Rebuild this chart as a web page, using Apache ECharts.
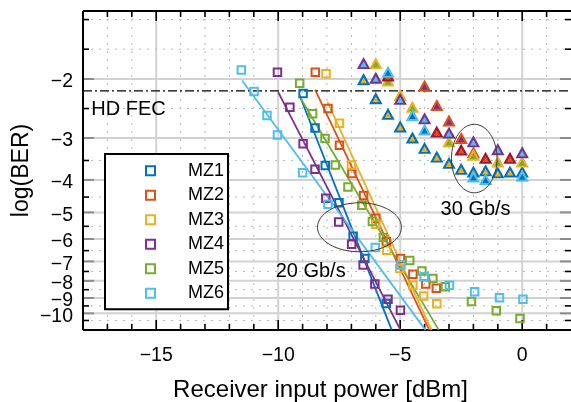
<!DOCTYPE html>
<html>
<head>
<meta charset="utf-8">
<script src="https://cdn.jsdelivr.net/npm/echarts@6/dist/echarts.min.js"></script>
<style>
html,body{margin:0;padding:0;background:#fff}
#chart{width:571px;height:402px}
</style>
</head>
<body>
<div id="chart"></div>
<script>
const FONT = '"Liberation Sans", Arial, Helvetica, sans-serif';
const NAMES = ['MZ1', 'MZ2', 'MZ3', 'MZ4', 'MZ5', 'MZ6'];
const LINE_COLORS = ['#0072BD', '#D95319', '#EDB120', '#7E2F8E', '#77AC30', '#4DBEEE'];
// 30 Gb/s triangles: edge colour / face colour
const TRI_EDGE = ['#0072BD', '#D95319', '#EDB120', '#7E2F8E', '#A2142F', '#4DBEEE'];
const TRI_FACE = ['#EDB120', '#7E2F8E', '#77AC30', '#4DBEEE', '#D95319', '#0072BD'];

// 20 Gb/s measurements: [receiver input power (dBm), log10(BER)]
const mz1_20 = [[-8.98,-2.21],[-8.49,-2.80],[-8.07,-3.62],[-7.51,-4.68],[-6.93,-5.89],[-6.45,-6.86],[-5.57,-9.34]];
const mz2_20 = [[-8.48,-1.91],[-7.96,-2.45],[-7.49,-3.15],[-6.98,-3.83],[-6.5,-4.45],[-6.0,-5.2],[-5.57,-6.12],[-4.99,-6.86],[-4.48,-7.64],[-3.95,-8.18],[-3.52,-8.42]];
const mz3_20 = [[-8.04,-1.93],[-7.49,-2.71],[-7.0,-3.61],[-6.55,-4.76],[-6.0,-5.42],[-5.55,-6.48],[-5.02,-7.35],[-4.48,-8.24],[-4.04,-8.88],[-3.5,-9.36]];
const mz4_20 = [[-10.03,-1.91],[-9.52,-2.43],[-8.98,-3.12],[-8.49,-3.72],[-8.05,-4.54],[-7.52,-5.34],[-6.99,-6.22],[-6.52,-7.18],[-6.04,-8.18],[-5.5,-9.07],[-4.99,-9.78]];
const mz5_20 = [[-9.12,-2.06],[-8.59,-2.54],[-8.08,-3.01],[-7.66,-3.61],[-7.14,-4.20],[-6.57,-4.76],[-6.14,-5.32],[-5.69,-5.94],[-4.61,-6.96],[-4.11,-7.47],[-3.66,-7.87],[-3.15,-8.33],[-2.08,-9.21],[-1.06,-9.82],[-0.09,-10.35]];
const mz6_20 = [[-11.51,-1.88],[-10.99,-2.18],[-10.46,-2.57],[-10.03,-2.94],[-9.0,-3.81],[-7.96,-4.73],[-6.02,-6.36],[-4.97,-7.18],[-4.02,-7.78],[-2.98,-8.24],[-1.95,-8.62],[-0.93,-8.99],[0.03,-9.08]];

// straight-line fits of the 20 Gb/s curves (end points)
const fit1 = [[-9.12,-2.24],[-5.35,-11.2]];
const fit2 = [[-8.49,-2.15],[-3.81,-11.2]];
const fit3 = [[-7.98,-2.34],[-3.72,-11.2]];
const fit4 = [[-10.0,-2.19],[-4.99,-11.2]];
const fit5 = [[-9.12,-2.26],[-3.42,-11.2]];
const fit6 = [[-11.48,-2.02],[-3.97,-11.2]];

// 30 Gb/s measurements
const mz1_30 = [[-6.5,-2.01],[-6,-2.29],[-5.5,-2.55],[-5,-2.78],[-4.5,-3.00],[-4,-3.22],[-3.5,-3.42],[-3,-3.57],[-2.5,-3.72],[-2,-3.79],[-1.5,-3.76],[-1,-3.81],[-0.5,-3.79],[0,-3.79]];
const mz2_30 = [[-4,-2.10],[-3.5,-2.40],[-3,-2.67],[-2.5,-3.01],[-2,-3.32]];
const mz3_30 = [[-6,-1.80],[-5.5,-2.03],[-5,-2.24],[-4.5,-2.43],[-3,-3.08],[-2,-3.38],[-1,-3.54],[0,-3.54]];
const mz4_30 = [[-6.5,-1.80],[-6,-1.99],[-5,-2.30],[-4,-2.63],[-3,-2.90],[-2,-3.08],[-1,-3.25],[0,-3.32]];
const mz5_30 = [[-5.5,-1.96],[-3.5,-2.88],[-2.5,-3.26],[-1.5,-3.45],[-0.5,-3.45]];
const mz6_30 = [[-5.5,-1.91],[-4.5,-2.57],[-4,-2.84],[-2,-3.92],[-1.5,-3.99],[0,-3.90]];

const HD_FEC = -2.17;

// axis ranges and ticks
const X_MIN = -18, X_MAX = 2;
const Y_TOP = -1.254, Y_BOTTOM = -11.21;
const X_LABELS = [-15, -10, -5, 0];
const Y_LABELS = [-2, -3, -4, -5, -6, -7, -8, -9, -10];
const Y_MINOR = [-1.33, -1.63, -2.45, -3.5, -4.5, -5.5, -6.5, -7.5, -8.5, -9.5, -10.5];

// annotations: ellipse boxes [x left, x right, logBER top, logBER bottom]
const ellipse20 = [-8.39, -4.95, -4.68, -6.55];
const ellipse30 = [-2.90, -1.03, -2.73, -4.37];
const notes = [
  { text: '20 Gb/s', x: -8.67, y: -7.51, align: 'center' },
  { text: '30 Gb/s', x: -1.91, y: -4.91, align: 'center' },
  { text: 'HD FEC', x: -17.66, y: -2.46, align: 'left' }
];

// BER axis: log10(BER) plotted on a log10(-log10(BER)) scale
const toU = L => Math.log10(-L);
const fmt = n => (n < 0 ? '\u2212' + Math.abs(n) : String(n));
const conv = arr => arr.map(p => [p[0], toU(p[1])]);

const sets20 = [mz1_20, mz2_20, mz3_20, mz4_20, mz5_20, mz6_20];
const fits = [fit1, fit2, fit3, fit4, fit5, fit6];
const sets30 = [mz1_30, mz2_30, mz3_30, mz4_30, mz5_30, mz6_30];

function renderFrame(params, api) {
  const cs = params.coordSys;
  const x0 = cs.x, x1 = cs.x + cs.width, y0 = cs.y, y1 = cs.y + cs.height;
  const uMid = toU(-3);
  const kids = [];
  const seg = (ax, ay, bx, by, style) => kids.push({ type: 'line', shape: { x1: ax, y1: ay, x2: bx, y2: by }, style: style });
  const dotted = { stroke: '#b9b9b9', lineWidth: 1, lineDash: [2, 6] };
  const solid = { stroke: '#d2d2d2', lineWidth: 2 };
  // vertical grid
  for (let v = X_MIN + 1; v < X_MAX; v++) {
    const px = api.coord([v, uMid])[0];
    seg(px, y0, px, y1, v % 5 === 0 ? solid : dotted);
  }
  // horizontal grid
  Y_MINOR.forEach(L => { const py = api.coord([0, toU(L)])[1]; seg(x0, py, x1, py, dotted); });
  Y_LABELS.forEach(L => { const py = api.coord([0, toU(L)])[1]; seg(x0, py, x1, py, solid); });
  // ticks
  const blk = { stroke: '#000', lineWidth: 1.6 };
  for (let v = X_MIN + 1; v < X_MAX; v++) {
    const px = api.coord([v, uMid])[0];
    const len = v % 5 === 0 ? 10 : 6;
    seg(px, y0, px, y0 + len, blk);
    seg(px, y1, px, y1 - len, blk);
  }
  Y_MINOR.forEach(L => {
    const py = api.coord([0, toU(L)])[1];
    seg(x0, py, x0 + 6, py, blk);
    seg(x1, py, x1 - 6, py, blk);
  });
  const gry = { stroke: '#8c8c8c', lineWidth: 2 };
  Y_LABELS.forEach(L => {
    const py = api.coord([0, toU(L)])[1];
    seg(x0, py, x0 + 11, py, gry);
    seg(x1, py, x1 - 11, py, gry);
    // tick label of the BER axis
    kids.push({
      type: 'text', x: x0 - 10, y: py + 3,
      style: { text: fmt(L), fontSize: 19.5, fontFamily: FONT, fill: '#000', align: 'right', verticalAlign: 'middle' }
    });
  });
  // spines
  const spine = { stroke: '#000', lineWidth: 2 };
  seg(x0, y0, x0, y1, spine);
  seg(x0, y0, x1, y0, spine);
  seg(x0, y1, x1, y1, spine);
  return { type: 'group', children: kids };
}

function renderNotes(params, api) {
  const kids = [];
  [ellipse20, ellipse30].forEach(e => {
    const a = api.coord([e[0], toU(e[2])]);
    const b = api.coord([e[1], toU(e[3])]);
    kids.push({
      type: 'ellipse',
      shape: { cx: (a[0] + b[0]) / 2, cy: (a[1] + b[1]) / 2, rx: Math.abs(b[0] - a[0]) / 2, ry: Math.abs(b[1] - a[1]) / 2 },
      style: { fill: null, stroke: '#3c3c3c', lineWidth: 1 }
    });
  });
  notes.forEach(n => {
    const p = api.coord([n.x, toU(n.y)]);
    kids.push({
      type: 'text', x: p[0], y: p[1],
      style: { text: n.text, fontSize: 20, fontFamily: FONT, fill: '#000', align: n.align, verticalAlign: 'middle' }
    });
  });
  return { type: 'group', children: kids };
}

const series = [];
series.push({
  type: 'custom', name: 'frame', coordinateSystem: 'cartesian2d', data: [[0, toU(-3)]],
  renderItem: renderFrame, clip: false, silent: true, z: 1
});
fits.forEach((f, i) => {
  series.push({
    type: 'line', name: NAMES[i] + ' fit', data: conv(f), symbol: 'none',
    lineStyle: { color: LINE_COLORS[i], width: 1.8 }, z: 2, silent: true
  });
});
sets20.forEach((d, i) => {
  series.push({
    type: 'scatter', name: NAMES[i], data: conv(d), symbol: 'rect', symbolSize: 7.5,
    itemStyle: { color: 'rgba(255,255,255,0)', borderColor: LINE_COLORS[i], borderWidth: 2, opacity: 1 },
    z: 3
  });
});
series.push({
  type: 'line', name: 'HD FEC', data: conv([[X_MIN, HD_FEC], [X_MAX, HD_FEC]]), symbol: 'none',
  lineStyle: { color: '#000', width: 1.3, type: [9, 3, 2, 3] }, z: 2, silent: true
});
sets30.forEach((d, i) => {
  series.push({
    type: 'scatter', name: NAMES[i] + ' 30 Gb/s', data: conv(d), symbol: 'triangle', symbolSize: [10, 9],
    itemStyle: { color: TRI_FACE[i], borderColor: TRI_EDGE[i], borderWidth: 2, opacity: 1 },
    z: 3
  });
});
series.push({
  type: 'custom', name: 'notes', coordinateSystem: 'cartesian2d', data: [[0, toU(-3)]],
  renderItem: renderNotes, clip: false, silent: true, z: 4
});

const chart = echarts.init(document.getElementById('chart'), null, { renderer: 'canvas' });
chart.setOption({
  animation: false,
  backgroundColor: '#fff',
  textStyle: { fontFamily: FONT },
  grid: { left: 83, right: 0, top: 11, bottom: 72, containLabel: false, outerBoundsMode: 'none' },
  legend: {
    data: NAMES, orient: 'vertical', left: 105, top: 154,
    padding: [7.7, 4, 7, 40], itemGap: 6.5, itemWidth: 9, itemHeight: 9,
    textStyle: { fontSize: 18, lineHeight: 18, color: '#000', fontFamily: FONT, padding: [0, 0, 0, 28] },
    borderColor: '#000', borderWidth: 2, backgroundColor: '#fff', borderRadius: 0,
    selectedMode: false
  },
  xAxis: {
    type: 'value', min: X_MIN, max: X_MAX, interval: 1,
    axisLine: { show: false }, axisTick: { show: false }, splitLine: { show: false },
    axisLabel: {
      formatter: v => (X_LABELS.indexOf(v) >= 0 ? fmt(v) : ''),
      fontSize: 19.5, color: '#000', margin: 16, fontFamily: FONT
    },
    name: 'Receiver input power [dBm]', nameLocation: 'middle', nameGap: 48,
    nameTextStyle: { fontSize: 24, color: '#000', fontFamily: FONT, padding: [0, 13, 0, 0] }
  },
  yAxis: {
    type: 'value', inverse: true, min: toU(Y_TOP), max: toU(Y_BOTTOM),
    axisLine: { show: false }, axisTick: { show: false }, splitLine: { show: false },
    axisLabel: { show: false },
    name: 'log(BER)', nameLocation: 'middle', nameGap: 50,
    nameTextStyle: { fontSize: 23, color: '#000', fontFamily: FONT }
  },
  series: series
});
</script>
</body>
</html>
